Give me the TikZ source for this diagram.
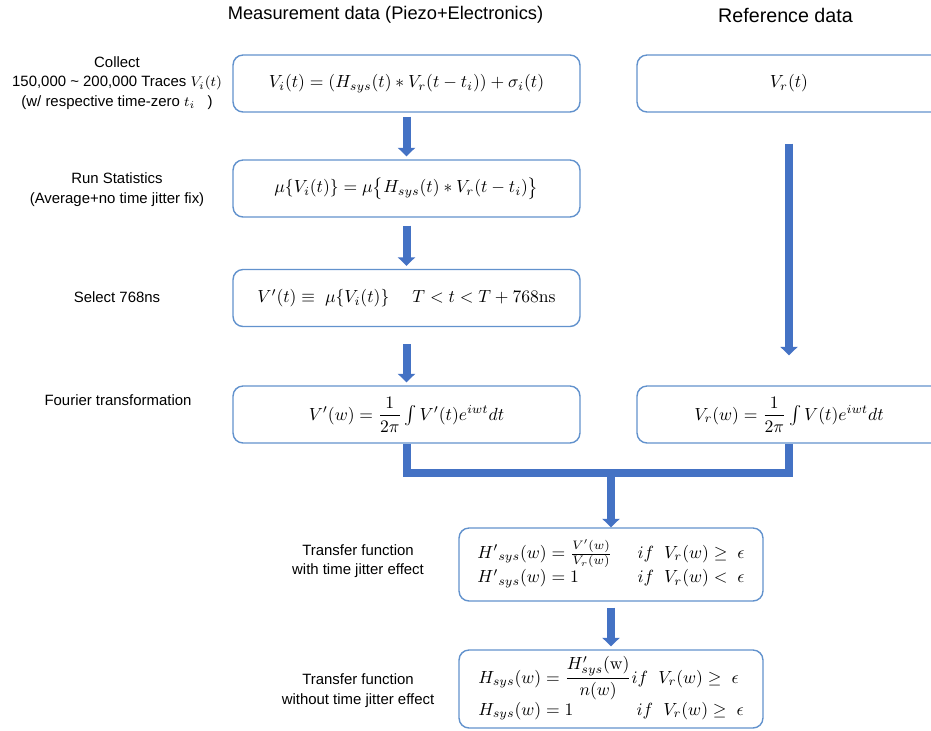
\documentclass[tikz,border=0pt]{standalone}
\usepackage[no-math]{fontspec}
\setmainfont{Liberation Sans}
\usepackage{amsmath,amssymb}
\usetikzlibrary{arrows.meta}
\definecolor{boxline}{RGB}{98,146,205}
\definecolor{pipeblue}{RGB}{68,114,196}
\begin{document}
\begin{tikzpicture}[x=0.02cm,y=-0.02cm,font=\fontsize{8.5}{11}\selectfont,
    eqbox/.style={draw=boxline,line width=0.8pt,rounded corners=0.2cm,minimum height=1.14cm,inner sep=0pt,font=\fontsize{10.4}{12.5}\selectfont},
    wide/.style={eqbox,minimum width=6.94cm},
    narrow/.style={eqbox,minimum width=6.08cm},
    title/.style={font=\fontsize{11.2}{13}\selectfont},
    note/.style={align=center},
    pipe/.style={draw=pipeblue,line width=0.16cm},
    flow/.style={pipe,-{Triangle[width=0.34cm,length=0.17cm]}}]
  \clip (0,0) rectangle (931,731);
  \node[title,font=\fontsize{10.4}{13}\selectfont] (meas) at (385.5,15) {Measurement data (Piezo+Electronics)};
  \node[title] (ref) at (785.5,15) {Reference data};

  \node[note] (collect) at (117,83) {Collect\\150,000 \textasciitilde{} 200,000 Traces $V_i(t)$\\(w/ respective time-zero $t_i$\ \ \ )};
  \node[note] (stats) at (117,189.5) {Run Statistics\\(Average+no time jitter fix)};
  \node (select) at (117,297) {Select 768ns};
  \node (fourier) at (118,400) {Fourier transformation};
  \node[note] (withj) at (358,561) {Transfer function\\with time jitter effect};
  \node[note] (withoutj) at (358,690.5) {Transfer function\\without time jitter effect};

  \node[wide] (b1) at (406.5,83.5) {$V_i(t) = (H_{sys}(t) * V_r(t - t_i)) + \sigma_i(t)$};
  \node[wide] (b2) at (406.5,188.5) {$\mu\{V_i(t)\} = \mu\bigl\{H_{sys}(t) * V_r(t - t_i)\bigr\}$};
  \node[wide] (b3) at (406.5,298) {$V'(t) \equiv\ \mu\{V_i(t)\} \quad\; T < t < T + 768\mathrm{ns}$};
  \node[wide] (b4) at (406.5,414.5) {$V'(w) = \dfrac{1}{2\pi}\int V'(t)e^{iwt}dt$};
  \node[narrow] (r1) at (789,83.5) {$V_r(t)$};
  \node[narrow] (r2) at (789,414.5) {$V_r(w) = \dfrac{1}{2\pi}\int V(t)e^{iwt}dt$};
  \node[narrow,minimum height=1.46cm] (t1) at (611,564.5) {$\begin{array}{@{}l@{\hspace{1.4em}}l@{}}
      H'{}_{sys}(w) = \frac{V'(w)}{V_r(w)} & if\ \ V_r(w) \geq\ \epsilon\\[1pt]
      H'{}_{sys}(w) = 1 & if\ \ V_r(w) <\ \epsilon
    \end{array}$};
  \node[narrow,minimum height=1.56cm] (t2) at (611,689) {$\begin{array}{@{}l@{}l@{}}
      H_{sys}(w) = \dfrac{H'_{sys}(\mathrm{w})}{n(w)} & if\ \ V_r(w) \geq\ \epsilon\\
      H_{sys}(w) = 1 & \ if\ \ V_r(w) \geq\ \epsilon
    \end{array}$};

  \draw[flow,shorten <=0.08cm,shorten >=0.06cm] (b1) -- (b2);
  \draw[flow,shorten <=0.16cm,shorten >=0.06cm] (b2) -- (b3);
  \draw[flow,shorten <=0.34cm,shorten >=0.06cm] (b3) -- (b4);
  \draw[flow,shorten <=0.62cm,shorten >=0.6cm] (r1) -- (r2);
  \coordinate (join) at (611,472.5);
  \draw[pipe] (b4.south) |- (join) -| (r2.south);
  \draw[flow] (join) -- (t1.north);
  \draw[flow,shorten <=0.12cm,shorten >=0.06cm] (t1) -- (t2);
\end{tikzpicture}
\end{document}
